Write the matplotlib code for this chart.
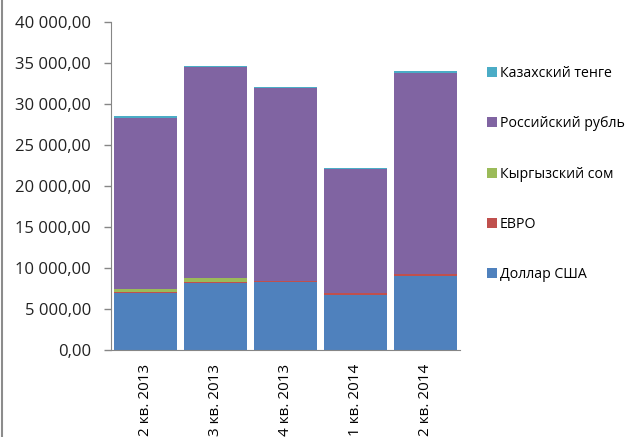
import numpy as np
import matplotlib.pyplot as plt
from matplotlib.ticker import FuncFormatter

# данные
quarters = ["2 кв. 2013", "3 кв. 2013", "4 кв. 2013", "1 кв. 2014", "2 кв. 2014"]
series_names = ["Доллар США", "ЕВРО", "Кыргызский сом", "Российский рубль", "Казахский тенге"]
usd = [6900, 8130, 8330, 6750, 9060]
eur = [170, 200, 120, 150, 200]
kgs = [320, 450, 0, 0, 0]
rub = [20960, 25700, 23510, 15150, 24570]
kzt = [150, 150, 150, 150, 150]
colors = ["#4F81BD", "#C0504D", "#9BBB59", "#8064A2", "#4BACC6"]

plt.rcParams['font.family'] = ['Open Sans', 'DejaVu Sans']

fig = plt.figure(figsize=(6.29, 4.37), dpi=100)
ax = fig.add_axes([110.5/629, 1-350/437, 350/629, 328/437])

x = np.arange(len(quarters))
bottom = np.zeros(len(quarters))
handles = []
for name, vals, c in zip(series_names, [usd, eur, kgs, rub, kzt], colors):
    b = ax.bar(x, vals, bottom=bottom, width=0.9, color=c, label=name, linewidth=0)
    handles.append(b)
    bottom += np.array(vals)

ax.set_xlim(-0.5, len(quarters) - 0.5)
ax.set_ylim(0, 40000)
ax.set_yticks(np.arange(0, 40001, 5000))
ax.yaxis.set_major_formatter(FuncFormatter(lambda v, p: ("{:,.2f}".format(v)).replace(",", " ").replace(".", ",")))
ax.set_xticks(x)
ax.set_xticklabels(quarters, rotation=90, va='top')
ax.tick_params(axis='x', length=0, pad=10, labelsize=11, colors='#000000')
ax.tick_params(axis='y', length=5, width=1, labelsize=12, pad=9)
ax.tick_params(axis='y', colors='#868686', labelcolor='#222222')
for s in ['top', 'right']:
    ax.spines[s].set_visible(False)
for s in ['left', 'bottom']:
    ax.spines[s].set_color('#868686')

leg = fig.legend(handles[::-1], series_names[::-1], loc='upper left',
                 bbox_to_anchor=(474/629, 1-53.5/437), frameon=False,
                 handlelength=0.7, handleheight=0.7, handletextpad=0.2,
                 labelspacing=2.48, fontsize=10.2)

# рамка слева
fig.add_artist(plt.Line2D([1.5/629, 1.5/629], [0, 1], color='#8c8c8c', linewidth=1.5))

fig.savefig("out.png", dpi=100)
